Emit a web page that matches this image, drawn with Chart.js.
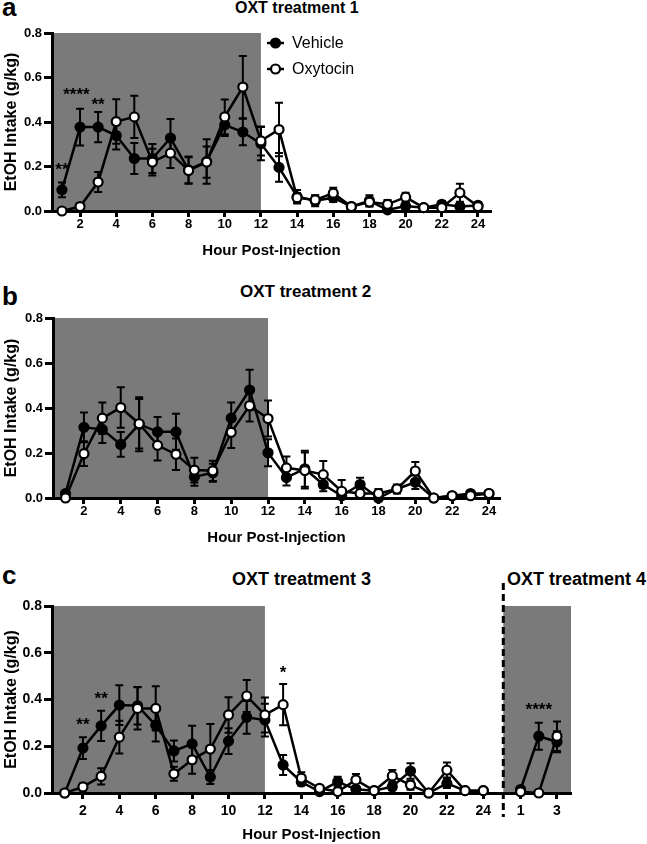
<!DOCTYPE html>
<html>
<head>
<meta charset="utf-8">
<script src="https://cdn.jsdelivr.net/npm/chart.js@4.4.0/dist/chart.umd.min.js"></script>
<style>
  body { margin: 0; background: #fff; width: 647px; height: 844px; position: relative; overflow: hidden; font-family: "Liberation Sans", Arial, sans-serif; }
  canvas { position: absolute; left: 0; }
  .lbl { position: absolute; font-weight: bold; line-height: 1; white-space: nowrap; color: #000; }
</style>
</head>
<body>
<div class="lbl" style="left:2px;top:-6px;font-size:26px">a</div>
<div class="lbl" style="left:235px;top:0px;font-size:16px">OXT treatment 1</div>
<div class="lbl" style="left:2px;top:283px;font-size:26px">b</div>
<div class="lbl" style="left:240px;top:283px;font-size:17px">OXT treatment 2</div>
<div class="lbl" style="left:2px;top:562px;font-size:26px">c</div>
<div class="lbl" style="left:232px;top:570px;font-size:18px">OXT treatment 3</div>
<div class="lbl" style="left:507px;top:570px;font-size:18px">OXT treatment 4</div>

<canvas id="chartA" width="647" height="262" style="top:0px"></canvas>
<canvas id="chartB" width="647" height="288" style="top:262px"></canvas>
<canvas id="chartC" width="647" height="294" style="top:550px"></canvas>

<script>
// ---- data (mean EtOH intake g/kg, SEM) ----
const hours = [1, 2, 3, 4, 5, 6, 7, 8, 9, 10, 11, 12, 13, 14, 15, 16, 17, 18, 19, 20, 21, 22, 23, 24];
const evenHours = [2, 4, 6, 8, 10, 12, 14, 16, 18, 20, 22, 24];
const evenHourLabels = ['2', '4', '6', '8', '10', '12', '14', '16', '18', '20', '22', '24'];
const yTicks = [0, 0.2, 0.4, 0.6, 0.8];

// treatment 1
const vehA    = [0.095, 0.377, 0.377, 0.339, 0.236, 0.236, 0.328, 0.185, 0.223, 0.387, 0.355, 0.303, 0.196, 0.064, 0.046, 0.060, 0.020, 0.046, 0.005, 0.022, 0.015, 0.030, 0.020, 0.025];
const vehASem = [0.033, 0.083, 0.068, 0.063, 0.070, 0.065, 0.085, 0.060, 0.100, 0.050, 0.060, 0.075, 0.065, 0.030, 0.025, 0.020, 0.010, 0.025, 0.010, 0.015, 0.010, 0.015, 0.015, 0.015];
const oxtA    = [0.000, 0.020, 0.130, 0.402, 0.423, 0.220, 0.260, 0.182, 0.220, 0.423, 0.557, 0.315, 0.366, 0.060, 0.050, 0.080, 0.020, 0.040, 0.030, 0.062, 0.015, 0.015, 0.082, 0.020];
const oxtASem = [0.000, 0.010, 0.045, 0.100, 0.095, 0.060, 0.067, 0.060, 0.070, 0.078, 0.140, 0.065, 0.120, 0.020, 0.020, 0.025, 0.010, 0.020, 0.020, 0.020, 0.010, 0.010, 0.040, 0.015];
const starAHours = [1, 1.8, 3];
const starAVals  = [0.208, 0.544, 0.497];
const starAText  = ['**', '****', '**'];

// treatment 2
const vehB    = [0.020, 0.314, 0.305, 0.238, 0.328, 0.294, 0.294, 0.094, 0.112, 0.355, 0.480, 0.201, 0.091, 0.130, 0.060, 0.010, 0.060, 0.000, 0.040, 0.070, 0.000, 0.010, 0.020, 0.020];
const vehBSem = [0.010, 0.066, 0.060, 0.055, 0.120, 0.066, 0.080, 0.040, 0.040, 0.070, 0.090, 0.060, 0.035, 0.080, 0.030, 0.020, 0.030, 0.010, 0.020, 0.030, 0.005, 0.010, 0.010, 0.010];
const oxtB    = [0.000, 0.197, 0.355, 0.402, 0.330, 0.234, 0.194, 0.124, 0.121, 0.292, 0.410, 0.353, 0.134, 0.122, 0.104, 0.030, 0.020, 0.020, 0.040, 0.120, 0.000, 0.010, 0.010, 0.020];
const oxtBSem = [0.000, 0.055, 0.070, 0.090, 0.110, 0.067, 0.070, 0.055, 0.045, 0.070, 0.070, 0.080, 0.050, 0.080, 0.060, 0.050, 0.020, 0.020, 0.010, 0.040, 0.005, 0.010, 0.010, 0.010];

// treatment 3
const vehC    = [0.000, 0.192, 0.287, 0.376, 0.373, 0.290, 0.180, 0.210, 0.068, 0.222, 0.324, 0.312, 0.120, 0.047, 0.006, 0.048, 0.016, 0.010, 0.027, 0.094, 0.000, 0.041, 0.010, 0.010];
const vehCSem = [0.000, 0.047, 0.065, 0.085, 0.080, 0.070, 0.045, 0.078, 0.030, 0.055, 0.070, 0.070, 0.043, 0.015, 0.010, 0.022, 0.010, 0.010, 0.015, 0.033, 0.005, 0.020, 0.005, 0.005];
const oxtC    = [0.000, 0.026, 0.071, 0.239, 0.362, 0.362, 0.082, 0.142, 0.188, 0.334, 0.415, 0.334, 0.378, 0.064, 0.020, 0.006, 0.056, 0.010, 0.073, 0.034, 0.000, 0.098, 0.010, 0.010];
const oxtCSem = [0.000, 0.015, 0.035, 0.070, 0.090, 0.095, 0.030, 0.060, 0.107, 0.076, 0.068, 0.075, 0.088, 0.025, 0.010, 0.010, 0.025, 0.005, 0.025, 0.020, 0.005, 0.032, 0.005, 0.005];
const starCHours = [2, 3, 13];
const starCVals  = [0.312, 0.423, 0.534];
const starCText  = ['**', '**', '*'];

// treatment 4 (first hours, drawn to the right of the dashed line)
const hoursT4 = [1, 2, 3];
const t4TickHours = [1, 3];
const t4TickLabels = ['1', '3'];
const vehT4    = [0.015, 0.243, 0.219];
const vehT4Sem = [0.005, 0.058, 0.045];
const oxtT4    = [0.005, 0.000, 0.243];
const oxtT4Sem = [0.005, 0.000, 0.063];
const starT4Hours = [2];
const starT4Vals  = [0.376];
const starT4Text  = ['****'];

const T4_OFFSET = 25.05;   // where treatment-4 hour 0 sits on the panel c axis
const T4_SPLIT = 25.1;     // dashed separator
const DARK_END = 12;       // lights-off period ends at hour 12

Chart.defaults.font.family = '"Liberation Sans", Arial, sans-serif';
Chart.defaults.color = '#000';

const shade = {
  id: 'shade',
  beforeDraw(chart, args, opts) {
    const { ctx, scales: { x, y } } = chart;
    ctx.save();
    ctx.fillStyle = '#7a7a7a';
    (opts.ranges || []).forEach(([a, b]) => {
      const x0 = x.getPixelForValue(a), x1 = x.getPixelForValue(b);
      const y0 = y.getPixelForValue(0.8), y1 = y.getPixelForValue(0);
      ctx.fillRect(x0, y0, x1 - x0, y1 - y0);
    });
    ctx.restore();
  }
};

const errorBars = {
  id: 'errorBars',
  beforeDatasetsDraw(chart) {
    const { ctx, scales: { x, y } } = chart;
    ctx.save();
    ctx.strokeStyle = '#000';
    ctx.lineWidth = 2;
    chart.data.datasets.forEach(ds => {
      if (!ds.sem) return;
      ds.data.forEach((p, i) => {
        const e = ds.sem[i];
        if (!e) return;
        const px = x.getPixelForValue(p.x);
        const top = y.getPixelForValue(p.y + e);
        const bot = y.getPixelForValue(Math.max(p.y - e, 0));
        ctx.beginPath();
        ctx.moveTo(px, top); ctx.lineTo(px, bot);
        ctx.moveTo(px - 4, top); ctx.lineTo(px + 4, top);
        ctx.moveTo(px - 4, bot); ctx.lineTo(px + 4, bot);
        ctx.stroke();
      });
    });
    ctx.restore();
  }
};

const stars = {
  id: 'stars',
  afterDatasetsDraw(chart, args, opts) {
    const { ctx, scales: { x, y } } = chart;
    ctx.save();
    ctx.fillStyle = '#000';
    ctx.font = 'bold 17px "Liberation Sans", Arial, sans-serif';
    ctx.textAlign = 'center';
    ctx.textBaseline = 'alphabetic';
    (opts.sets || []).forEach(s => {
      s.xs.forEach((hx, i) => {
        ctx.fillText(s.texts[i], x.getPixelForValue(hx), y.getPixelForValue(s.ys[i]) + 10);
      });
    });
    ctx.restore();
  }
};

const separator = {
  id: 'separator',
  afterDatasetsDraw(chart, args, opts) {
    if (opts.at == null) return;
    const { ctx, chartArea, scales: { x } } = chart;
    const px = x.getPixelForValue(opts.at);
    ctx.save();
    ctx.strokeStyle = '#000';
    ctx.lineWidth = 3;
    ctx.setLineDash([7, 4]);
    ctx.beginPath();
    ctx.moveTo(px, chartArea.top - 23);
    ctx.lineTo(px, chartArea.bottom + 24);
    ctx.stroke();
    ctx.restore();
  }
};

const legendA = {
  id: 'legendA',
  afterDraw(chart) {
    const { ctx } = chart;
    const rows = [['Vehicle', '#000', 43], ['Oxytocin', '#fff', 69]];
    ctx.save();
    rows.forEach(([txt, fill, cy]) => {
      ctx.strokeStyle = '#000';
      ctx.lineWidth = 2.5;
      ctx.beginPath(); ctx.moveTo(267, cy); ctx.lineTo(284, cy); ctx.stroke();
      ctx.beginPath(); ctx.arc(275.5, cy, 4.5, 0, Math.PI * 2);
      ctx.fillStyle = fill; ctx.fill();
      ctx.lineWidth = 2.2; ctx.stroke();
      ctx.fillStyle = '#000';
      ctx.font = '16px "Liberation Sans", Arial, sans-serif';
      ctx.textBaseline = 'middle';
      ctx.fillText(txt, 292, cy + 1);
    });
    ctx.restore();
  }
};

function series(label, xs, ys, sem, fill, order) {
  return {
    label,
    data: xs.map((x, i) => ({ x, y: ys[i] })),
    sem,
    borderColor: '#000',
    borderWidth: 2.5,
    pointRadius: 4.5,
    pointBorderWidth: 2.2,
    pointBackgroundColor: fill,
    pointBorderColor: '#000',
    tension: 0,
    clip: false,
    order
  };
}

function makePanel(id, g) {
  return new Chart(document.getElementById(id), {
    type: 'line',
    data: { datasets: g.datasets },
    plugins: [shade, errorBars, stars, separator].concat(g.extra || []),
    options: {
      responsive: false,
      animation: false,
      events: [],
      layout: { padding: { top: g.top, left: 0, right: 647 - g.right, bottom: 0 } },
      plugins: {
        legend: { display: false },
        tooltip: { enabled: false },
        shade: { ranges: g.ranges },
        stars: { sets: g.stars || [] },
        separator: { at: g.split }
      },
      scales: {
        x: {
          type: 'linear',
          min: g.xmin,
          max: g.xmax,
          afterBuildTicks: s => { s.ticks = g.tickPos.map(v => ({ value: v })); },
          afterFit: s => { s.height = g.xh; },
          ticks: {
            autoSkip: false, maxRotation: 0,
            callback: (v, i) => g.tickText[i],
            font: { size: g.tickFont, weight: 'bold' },
            color: '#000',
            padding: g.tickPad
          },
          grid: { drawOnChartArea: false, drawTicks: true, tickLength: 6, tickWidth: 3, tickColor: '#000' },
          border: { display: true, width: 3, color: '#000' },
          title: {
            display: true, text: 'Hour Post-Injection', color: '#000',
            font: { size: 15, weight: 'bold' },
            padding: { top: 0, bottom: g.titlePad }
          }
        },
        y: {
          min: 0,
          max: 0.8,
          afterBuildTicks: s => { s.ticks = yTicks.map(v => ({ value: v })); },
          afterFit: s => { s.width = g.left; },
          ticks: {
            callback: v => v.toFixed(1),
            font: { size: g.tickFont, weight: 'bold' },
            color: '#000',
            padding: 2
          },
          grid: { drawOnChartArea: false, drawTicks: true, tickLength: 8, tickWidth: 3, tickColor: '#000' },
          border: { display: true, width: 3, color: '#000' },
          title: {
            display: true, text: 'EtOH Intake (g/kg)', color: '#000',
            font: { size: 16, weight: 'bold' },
            padding: { top: 2, bottom: 0 }
          }
        }
      }
    }
  });
}

makePanel('chartA', {
  top: 33, left: 52, right: 491, xh: 51, xmin: 0.45, xmax: 24.72,
  tickPos: evenHours, tickText: evenHourLabels, tickFont: 13, tickPad: 0, titlePad: 2,
  ranges: [[0.45, DARK_END]],
  stars: [{ xs: starAHours, ys: starAVals, texts: starAText }],
  datasets: [
    series('Vehicle', hours, vehA, vehASem, '#000', 1),
    series('Oxytocin', hours, oxtA, oxtASem, '#fff', 0)
  ],
  extra: [legendA]
});

makePanel('chartB', {
  top: 56, left: 53, right: 500, xh: 52, xmin: 0.32, xmax: 24.6,
  tickPos: evenHours, tickText: evenHourLabels, tickFont: 13, tickPad: 0, titlePad: 3,
  ranges: [[0.32, DARK_END]],
  datasets: [
    series('Vehicle', hours, vehB, vehBSem, '#000', 1),
    series('Oxytocin', hours, oxtB, oxtBSem, '#fff', 0)
  ]
});

const t4Pos = hoursT4.map(h => T4_OFFSET + h);
makePanel('chartC', {
  top: 56, left: 52, right: 571, xh: 51, xmin: 0.3, xmax: 28.82,
  tickPos: evenHours.concat(t4TickHours.map(h => T4_OFFSET + h)),
  tickText: evenHourLabels.concat(t4TickLabels),
  tickFont: 14, tickPad: 4, titlePad: 0,
  ranges: [[0.3, DARK_END], [T4_SPLIT, 28.82]],
  split: T4_SPLIT,
  stars: [
    { xs: starCHours, ys: starCVals, texts: starCText },
    { xs: starT4Hours.map(h => T4_OFFSET + h), ys: starT4Vals, texts: starT4Text }
  ],
  datasets: [
    series('Vehicle', hours, vehC, vehCSem, '#000', 1),
    series('Oxytocin', hours, oxtC, oxtCSem, '#fff', 0),
    series('Vehicle', t4Pos, vehT4, vehT4Sem, '#000', 1),
    series('Oxytocin', t4Pos, oxtT4, oxtT4Sem, '#fff', 0)
  ]
});
</script>
</body>
</html>
